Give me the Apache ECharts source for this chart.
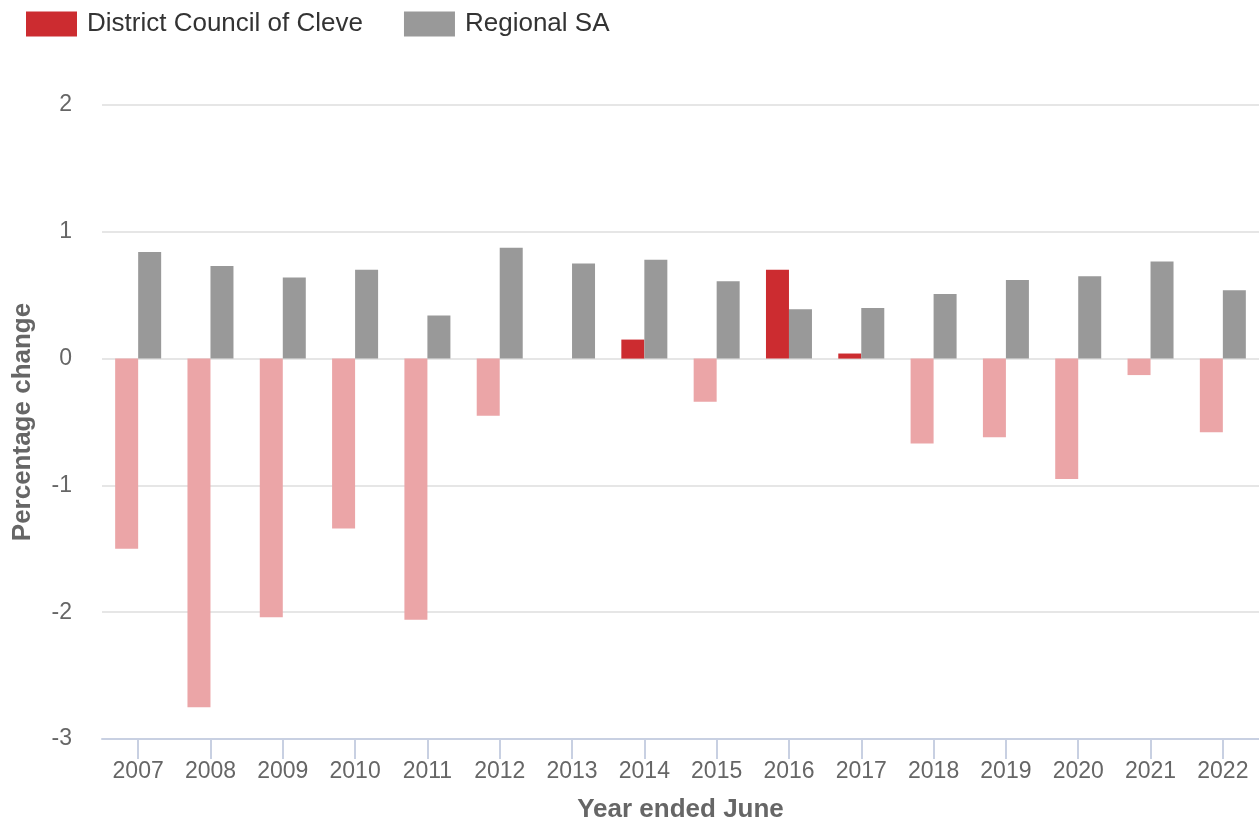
<!DOCTYPE html>
<html>
<head>
<meta charset="utf-8">
<script src="https://cdn.jsdelivr.net/npm/echarts@6/dist/echarts.min.js"></script>
<style>
  html, body { margin: 0; padding: 0; background: #fff; }
  #chart { width: 1259px; height: 825px; }
</style>
</head>
<body>
<div id="chart"></div>
<script>
const years = ['2007', '2008', '2009', '2010', '2011', '2012', '2013', '2014',
  '2015', '2016', '2017', '2018', '2019', '2020', '2021', '2022'];
const cleve = [-1.5, -2.75, -2.04, -1.34, -2.06, -0.45, 0, 0.15,
  -0.34, 0.70, 0.04, -0.67, -0.62, -0.95, -0.13, -0.58];
const regionalSA = [0.84, 0.73, 0.64, 0.70, 0.34, 0.875, 0.75, 0.78,
  0.61, 0.39, 0.40, 0.51, 0.62, 0.65, 0.765, 0.54];

const red = '#cc2c30';
const pink = '#eba5a7';
const grey = '#999999';

const chart = echarts.init(document.getElementById('chart'));

chart.setOption({
  animation: false,
  textStyle: { fontFamily: '"Liberation Sans", Arial, sans-serif' },
  legend: {
    left: 21,
    top: 6,
    itemWidth: 51,
    itemHeight: 25,
    itemGap: 41,
    icon: 'rect',
    textStyle: { color: '#333', fontSize: 26, padding: [0, 0, 0, 5] },
    data: [
      { name: 'District Council of Cleve', itemStyle: { color: red } },
      { name: 'Regional SA', itemStyle: { color: grey } }
    ]
  },
  grid: {
    left: 102,
    right: 0,
    top: 105,
    bottom: 86,
    containLabel: false,
    outerBoundsMode: 'none'
  },
  xAxis: {
    type: 'category',
    data: years,
    name: 'Year ended June',
    nameLocation: 'middle',
    nameGap: 58,
    nameTextStyle: { color: '#666', fontSize: 26, fontWeight: 'bold' },
    axisLine: { onZero: false, lineStyle: { color: '#c8d0e2', width: 2 } },
    axisTick: { show: true, alignWithLabel: true, length: 20, lineStyle: { color: '#c8d0e2', width: 2 } },
    axisLabel: { color: '#666', fontSize: 23, margin: 21 }
  },
  yAxis: {
    type: 'value',
    min: -3,
    max: 2,
    interval: 1,
    name: 'Percentage change',
    nameLocation: 'middle',
    nameGap: 66,
    nameTextStyle: { color: '#666', fontSize: 26, fontWeight: 'bold' },
    axisLine: { show: false },
    axisTick: { show: false },
    axisLabel: { color: '#666', fontSize: 23, margin: 30 },
    splitLine: { lineStyle: { color: '#e6e6e6', width: 2 } }
  },
  series: [
    {
      name: 'District Council of Cleve',
      type: 'bar',
      data: cleve,
      barWidth: 23,
      barGap: '0%',
      itemStyle: {
        color: (p) => (p.value < 0 ? pink : red)
      }
    },
    {
      name: 'Regional SA',
      type: 'bar',
      data: regionalSA,
      barWidth: 23,
      barGap: '0%',
      itemStyle: { color: grey }
    }
  ]
});
</script>
</body>
</html>
